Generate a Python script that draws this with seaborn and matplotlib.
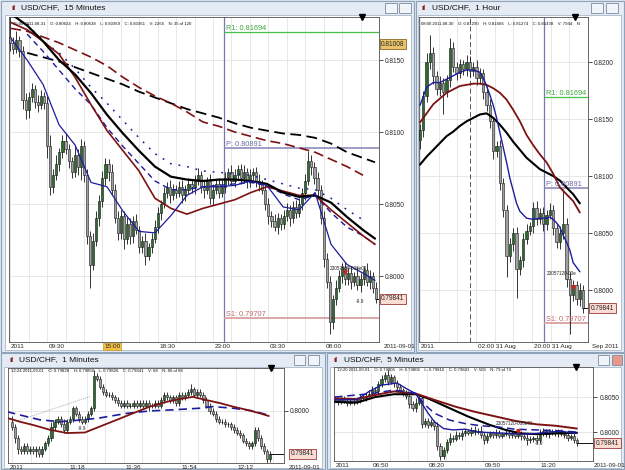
import numpy as np
import matplotlib
matplotlib.use("Agg")
import matplotlib.pyplot as plt
import matplotlib.transforms as mtransforms
from matplotlib.patches import Rectangle
import seaborn as sns

sns.set_style("white")
plt.rcParams["font.family"] = ["Liberation Sans", "DejaVu Sans"]

W, H = 625, 470
BASE = 0.7900          # all series below are pips above this
R1, PIV, S1 = 0.81694, 0.80891, 0.79707
LAST = 0.79841

# ---------------- 15 minutes ----------------
a_first_open = 266
a_close = [262, 258, 264, 256, 222, 215, 224, 230, 221, 219,
           225, 220, 190, 162, 170, 178, 186, 194, 188, 180,
           172, 184, 176, 190, 170, 128, 108, 124, 140, 152,
           168, 178, 172, 160, 140, 130, 142, 126, 136, 128,
           138, 132, 120, 124, 114, 120, 126, 134, 144, 150,
           158, 162, 156, 160, 158, 162, 156, 160, 164, 162,
           166, 170, 162, 160, 166, 154, 160, 164, 158, 162,
           168, 172, 166, 170, 174, 168, 172, 166, 170, 172,
           166, 164, 160, 150, 142, 138, 134, 140, 136, 142,
           146, 140, 148, 144, 150, 158, 166, 180, 176, 168,
           160, 140, 112, 96, 68, 84, 92, 100, 106, 98,
           102, 96, 100, 94, 98, 104, 96, 100, 92, 84.1]
a_up = [17, 4, 6, 3, 4, 5, 4, 4, 3, 5,
        4, 3, 5, 8, 4, 6, 3, 4, 5, 4,
        3, 6, 4, 5, 4, 4, 3, 6, 5, 4,
        5, 4, 3, 6, 4, 5, 4, 3, 5, 4,
        4, 5, 3, 4, 6, 3, 4, 5, 4, 3,
        4, 3, 5, 4, 3, 4, 5, 3, 4, 3,
        4, 5, 3, 4, 3, 5, 4, 3, 4, 5,
        4, 3, 5, 4, 3, 4, 5, 3, 4, 3,
        4, 5, 3, 4, 4, 3, 5, 4, 3, 4,
        5, 3, 4, 5, 4, 3, 5, 7, 4, 3,
        4, 3, 5, 4, 4, 3, 5, 4, 3, 4,
        4, 5, 3, 6, 4, 3, 5, 4, 3, 4]
a_dn = [6, 4, 3, 4, 6, 6, 5, 3, 4, 5,
        3, 4, 8, 6, 4, 3, 5, 4, 3, 5,
        4, 3, 6, 9, 5, 6, 16, 4, 3, 5,
        4, 5, 6, 4, 3, 5, 4, 7, 4, 6,
        5, 3, 4, 4, 6, 3, 4, 3, 4, 5,
        3, 4, 5, 3, 4, 3, 5, 4, 3, 4,
        5, 3, 4, 6, 3, 4, 5, 3, 4, 3,
        4, 5, 3, 4, 3, 4, 3, 5, 4, 3,
        4, 5, 3, 4, 6, 4, 3, 5, 4, 3,
        4, 5, 3, 4, 3, 4, 5, 3, 6, 4,
        5, 4, 6, 4, 8, 5, 4, 3, 5, 4,
        4, 5, 3, 4, 5, 4, 3, 5, 4, 3]
a_ma_idx = [0.3, 5.5, 10.7, 15.9, 21.1, 26.3, 31.5, 36.7, 41.9, 47.1, 52.3, 57.5,
            62.7, 67.9, 73.1, 78.3, 83.5, 88.8, 94.0, 99.2, 104.4, 109.6, 114.8, 118.7]
nan = np.nan
a_blue = [265, 250, 233, 205, 191, 165, 162, 145, 131, 130, 142, 156,
          162, 162, 163, 166, 163, 148, 146, 158, 122, 108, 102, 97]
a_black = [282, 274, 263, 250, 240, 227, 212, 199, 187, 176, 169, 167,
           166, 167, 167, 166, 164, 158, 155, 156, 151, 141, 132, 126]
a_brown = [276, 271, 263, 254, 238, 219, 201, 187, 173, 154, 147, 143,
           147, 150, 153, 158, 162, 159, 156, 156, 146, 137, 128, 122]
a_blue_dash = [nan, 268, 256, 243, 230, 219, 203, 190, 178, 166, 160, 160,
               162, 163, 164, 165, 163, 157, 153, 156, 144, 134, 128, 122]
a_blue_dot = [nan, 275, 263, 255, 244, 231, 220, 208, 196, 185, 178, 176,
              173, 172, 171, 170, 167, 164, 161, 160, 154, 146, 139, nan]
a_black_dash = [nan, 255, 252, 249, 245, 241, 237, 233, 228, 224, 220, 216,
                213, 210, 206, 203, 201, 199, 198, 196, 192, 186, 182, 179]
a_brown_dash = [272, 270, 266, 262, 257, 252, 246, 238, 231, 225, 220, 214,
                207, 204, 200, 197, 194, 192, 189, 186, 181, 176, 170, nan]
a_times = ["09:30", "15:00", "18:30", "23:00", "03:30", "08:00"]
a_time_idx = [12, 30, 48, 66, 84, 102]
a_pivot_start = 69.6

# ---------------- 1 hour ----------------
b_first_open = 232
b_close = [240, 270, 300, 308, 288, 276, 282, 274, 284, 312,
           296, 290, 298, 294, 300, 292, 296, 286, 290, 274,
           262, 248, 222, 226, 194, 170, 130, 140, 150, 118,
           126, 145, 152, 156, 172, 162, 168, 158, 166, 170,
           154, 142, 150, 158, 110, 96, 104, 92, 100, 84.1]
b_up = [6, 5, 8, 16, 5, 4, 6, 4, 5, 9,
        6, 4, 5, 4, 6, 5, 4, 6, 5, 4,
        5, 6, 4, 5, 6, 4, 5, 6, 4, 5,
        4, 5, 6, 4, 5, 6, 4, 5, 4, 6,
        5, 4, 6, 31, 5, 6, 5, 4, 6, 4]
b_dn = [8, 6, 5, 6, 7, 5, 6, 20, 5, 6,
        5, 6, 4, 5, 6, 5, 4, 6, 5, 6,
        5, 6, 7, 5, 6, 6, 19, 5, 6, 25,
        5, 6, 5, 4, 6, 5, 4, 6, 5, 4,
        6, 5, 6, 5, 7, 35, 6, 5, 6, 4]
b_blue_idx = [0, 2, 4, 6, 8, 10, 12, 14, 16, 18, 19, 20, 21, 22, 23, 24, 25, 26,
              27, 28, 29, 30, 32, 34, 36, 38, 39, 40, 41, 42, 43, 44, 45, 46, 47, 48]
b_blue = [262, 278, 282, 282, 285, 288, 291, 293, 293, 291, 286, 279, 271, 262, 251, 238, 225, 212,
          198, 187, 176, 169, 163, 162, 163, 163, 164, 162, 159, 155, 148, 142, 135, 124, 120, 116]
b_ma_idx = [0, 2, 4, 6, 8, 10, 12, 14, 16, 18, 20, 22, 24, 26, 28, 30, 32, 34, 36, 38, 40, 42, 44, 46, 48]
b_brown = [247, 255, 263, 268, 273, 276, 279, 280, 281, 281, 280, 277, 273,
           267, 258, 248, 236, 227, 219, 212, 202, 190, 184, 178, 168]
b_black = [210, 217, 223, 229, 235, 239, 244, 248, 251, 254, 255, 251, 245,
           238, 230, 223, 216, 211, 206, 203, 200, 196, 190, 184, 176]
b_times = ["02:00 31 Aug", "20:00 31 Aug"]
b_time_idx = [16.8, 33.6]
b_pivot_start = 37.2
b_session_line = 15

# ---------------- 1 minute ----------------
c_first_open = 96
c_close = [94, 90, 86, 85, 87, 85, 86, 85, 86, 84,
           86, 88, 90, 94, 96, 97, 95, 93, 96, 97,
           101, 99, 97, 96, 97, 99, 101, 113, 112, 109,
           107, 106, 106, 105, 104, 103, 102, 103, 102, 102,
           103, 102, 103, 102, 103, 102, 102, 103, 102, 104,
           106, 105, 104, 105, 103, 106, 105, 106, 107, 108,
           106, 107, 106, 104, 102, 100, 99, 97, 96, 96,
           95, 95, 94, 93, 92, 91, 89, 88, 87, 88,
           93, 90, 87, 85, 82, 84.1]
c_up = [2, 1, 1, 1, 1, 1, 1, 1, 1, 1,
        1, 1, 1, 2, 1, 1, 1, 2, 1, 1,
        1, 1, 1, 1, 1, 1, 1, 2, 1, 1,
        1, 1, 1, 1, 1, 1, 1, 1, 1, 1,
        1, 1, 1, 1, 1, 1, 1, 1, 1, 1,
        1, 1, 1, 1, 1, 1, 1, 1, 1, 2,
        1, 1, 1, 1, 1, 1, 1, 1, 1, 1,
        1, 1, 1, 1, 1, 1, 1, 1, 1, 1,
        1, 1, 1, 1, 1, 1]
c_dn = [1, 2, 2, 1, 1, 1, 1, 1, 2, 1,
        1, 1, 1, 1, 1, 1, 1, 1, 1, 1,
        1, 1, 1, 1, 1, 1, 1, 1, 1, 1,
        1, 1, 1, 1, 1, 1, 1, 1, 1, 1,
        1, 1, 1, 1, 1, 2, 1, 1, 1, 1,
        1, 1, 1, 1, 1, 1, 1, 1, 1, 1,
        1, 1, 1, 1, 1, 1, 1, 1, 1, 1,
        1, 1, 1, 1, 1, 1, 1, 1, 1, 1,
        1, 1, 1, 1, 3, 1]
c_brown_idx = [-1.6, 2.6, 6.9, 12.5, 18.1, 24, 28.9, 34.5, 39.8, 45.4,
               51, 55.3, 59.5, 64.1, 68.4, 72.7, 77.3, 81.6, 84.5]
c_brown = [97.4, 96, 94.8, 93, 91.8, 92, 94.2, 96.7, 99.1, 101.6,
           103.4, 104.4, 105.2, 104, 102.9, 101.6, 100.4, 99.1, 98.1]
c_blue_idx = [-1.6, 2.6, 9.2, 15.8, 23.4, 28.9, 37.8, 45.4, 53, 61.8, 66.1, 72.7, 79.3, 84.2]
c_blue = [99.7, 98.5, 96.7, 96, 96.7, 97.4, 99.1, 100, 100.4, 101, 101.6, 101, 100, 98.5]
c_trend_idx = [2, 25.7]
c_trend = [96.4, 105.3]
c_times = ["11:18", "11:36", "11:54", "12:12"]
c_time_idx = [18.4, 36.8, 55.3, 73.7]

# ---------------- 5 minutes ----------------
d_first_open = 148
d_close = [146, 143, 147, 144, 141, 145, 143, 146, 150, 148,
           152, 155, 160, 158, 168, 176, 182, 172, 178, 170,
           164, 160, 156, 152, 140, 134, 142, 148, 112, 116,
           110, 114, 108, 80, 66, 74, 86, 92, 90, 96,
           94, 98, 101, 99, 103, 100, 102, 96, 88, 94,
           98, 96, 99, 95, 97, 99, 96, 98, 95, 97,
           94, 92, 88, 90, 92, 89, 98, 102, 97, 99,
           101, 98, 100, 97, 96, 92, 94, 88, 84.1]
d_up = [3, 4, 3, 4, 3, 4, 3, 4, 5, 3,
        4, 5, 6, 4, 5, 6, 4, 6, 5, 4,
        4, 5, 3, 4, 5, 4, 6, 4, 5, 4,
        4, 5, 3, 6, 4, 5, 4, 6, 4, 5,
        4, 5, 4, 3, 4, 5, 4, 7, 4, 5,
        4, 3, 5, 4, 3, 5, 4, 3, 4, 5,
        4, 3, 5, 4, 3, 4, 6, 4, 3, 5,
        4, 3, 4, 5, 3, 4, 3, 4, 3]
d_dn = [3, 4, 3, 3, 4, 3, 4, 3, 4, 3,
        4, 3, 4, 5, 4, 3, 4, 5, 4, 5,
        4, 3, 4, 5, 6, 4, 5, 4, 6, 5,
        4, 3, 5, 6, 6, 5, 4, 5, 4, 3,
        4, 5, 4, 3, 5, 4, 3, 4, 5, 4,
        3, 4, 5, 3, 4, 3, 5, 4, 3, 4,
        5, 4, 6, 3, 4, 5, 4, 3, 4, 5,
        3, 4, 5, 3, 4, 5, 4, 3, 4]
d_blue_idx = [0, 7, 11, 15, 20, 23, 26, 28, 30, 32, 35, 38, 42, 46, 51, 56, 60, 65, 69, 73, 78]
d_blue = [146, 146, 158, 167, 170, 162, 155, 141, 127, 115, 105, 103, 104, 100, 99, 98, 97, 98, 100, 101, 98]
d_blue_dash_idx = [0, 12, 19, 26, 29, 32, 37, 42, 47, 53, 58, 65, 71, 78]
d_blue_dash = [150, 155, 160, 155, 139, 127, 117, 112, 109, 107, 104, 103, 102, 100]
d_brown_idx = [0, 7, 13, 19, 26, 32, 39, 45, 52, 58, 65, 71, 78]
d_brown = [148, 147, 153, 158, 155, 146, 136, 129, 122, 116, 111, 109, 105]
d_black_idx = [0, 7, 13, 19, 26, 30, 37, 43, 50, 55, 60, 65, 71, 78]
d_black = [143, 142, 150, 154, 154, 148, 134, 122, 110, 103, 98, 97, 98, 99]
d_times = ["06:50", "08:20", "09:50", "11:20"]
d_time_idx = [11.6, 29.7, 47.7, 65.8]

BLUE, BROWN, BLACK = "#1c1c9c", "#7d1212", "#000000"
UPC, DNC, EDGE = "#2e6b2e", "#a0a0a0", "#141414"


def px(v):
    return BASE + np.asarray(v, float) / 1e4


fig = plt.figure(figsize=(6.25, 4.7), dpi=100, facecolor="#dbe4ee")


def frect(x0, y0, x1, y1, **kw):
    fig.add_artist(Rectangle((x0 / W, 1 - y1 / H), (x1 - x0) / W, (y1 - y0) / H,
                             transform=fig.transFigure, **kw))


def window(outer, content, title, tpos, buttons, red_close=False):
    frect(*outer, facecolor="#e4ebf4", edgecolor="#8ea2ba", lw=0.8, zorder=-5)
    frect(*content, facecolor="white", edgecolor="#a9b7c8", lw=0.6, zorder=-4)
    fig.text((tpos[0] - 10) / W, 1 - tpos[1] / H, "ıl", color="#8b1a1a",
             fontsize=5.5, va="center", fontweight="bold")
    fig.text(tpos[0] / W, 1 - tpos[1] / H, title, fontsize=6, va="center", color="#111")
    for k, b in enumerate(buttons):
        last = red_close and k == len(buttons) - 1
        frect(*b, facecolor="#e59a8c" if last else "#f1f4f8", edgecolor="#7b8ba0",
              lw=0.6, zorder=-3)


def make_axes(rect, xlim, ylim, yticks, time_idx, times, right_label, header, rdx=3):
    x0, y0, x1, y1 = rect
    ax = fig.add_axes([x0 / W, 1 - y1 / H, (x1 - x0) / W, (y1 - y0) / H])
    ax.set_facecolor("white")
    ax.set_xlim(*xlim)
    ax.set_ylim(*ylim)
    step = (time_idx[1] - time_idx[0]) / 3
    grid = np.arange(time_idx[0] - 6 * step, xlim[1], step)
    grid = grid[grid > xlim[0]]
    for g in grid:
        ax.axvline(g, color="#e3e3e3", lw=0.6, zorder=0)
    for t in yticks:
        ax.axhline(t, color="#e3e3e3", lw=0.6, zorder=0)
    ax.set_xticks(time_idx)
    ax.set_xticklabels([])
    ax.tick_params(axis="x", length=6, width=0.5, direction="out", color="#333")
    ax.yaxis.tick_right()
    ax.set_yticks(yticks)
    ax.set_yticklabels([f"{t:.4f}" for t in yticks])
    ax.tick_params(axis="y", length=3, width=0.6, labelsize=4.7, pad=1.5, color="#333")
    for s in ax.spines.values():
        s.set_color("#4d4d4d")
        s.set_linewidth(0.6)
    ax.annotate("2011", xy=(0, 0), xycoords="axes fraction", xytext=(1.2, -1.2),
                textcoords="offset points", fontsize=4.6, ha="left", va="top")
    for i, lab in zip(time_idx, times):
        ax.annotate(lab, xy=(i, 0), xycoords=("data", "axes fraction"), xytext=(1.2, -1.2),
                    textcoords="offset points", fontsize=4.6, ha="left", va="top")
    ax.annotate(right_label, xy=(1, 0), xycoords="axes fraction", xytext=(rdx, -1.2),
                textcoords="offset points", fontsize=4.5, ha="left", va="top")
    ax.text(0.012, 0.985, header, transform=ax.transAxes, fontsize=3.1, va="top",
            ha="left", color="#111", zorder=6)
    return ax


def candles(ax, first_open, close, up, dn):
    c = px(close)
    o = np.r_[px(first_open), c[:-1]]
    hi = np.maximum(o, c) + np.asarray(up) / 1e4
    lo = np.minimum(o, c) - np.asarray(dn) / 1e4
    idx = np.arange(len(c))
    ax.vlines(idx, lo, hi, color=EDGE, lw=0.6, zorder=2)
    cols = np.where(c > o, UPC, DNC)
    ax.bar(idx, c - o, bottom=o, width=0.7, color=cols, edgecolor=EDGE,
           linewidth=0.4, zorder=3)
    return idx[-1], c[-1]


def ma(ax, idx, vals, color, lw, dashes=None, z=4):
    x = np.asarray(idx, float)
    y = px(vals)
    keep = ~np.isnan(y)
    sns.lineplot(x=x[keep], y=y[keep], ax=ax, color=color, lw=lw, errorbar=None,
                 legend=False, zorder=z, sort=False)
    if dashes:
        ax.lines[-1].set_dashes(dashes)


def price_box(ax, y, text, fc, ec, dx=0.006):
    tr = mtransforms.blended_transform_factory(ax.transAxes, ax.transData)
    ax.text(1 + dx, y, text, transform=tr, fontsize=4.7, va="center", ha="left",
            bbox=dict(boxstyle="square,pad=0.25", fc=fc, ec=ec, lw=0.6), zorder=7, clip_on=False)


def last_line(ax, i, c):
    x1 = ax.get_xlim()[1]
    ax.plot([i, x1], [c, c], color="#111", lw=0.7, zorder=5)


def pivots(ax, start, xmax):
    ax.axvline(start, color="#7878ae", lw=0.9, zorder=1)
    items = [(R1, "R1: 0.81694", "#48c048", "#3aa83a", 0.9),
             (PIV, "P: 0.80891", "#8282b6", "#6a6aa4", 1.1),
             (S1, "S1: 0.79707", "#d9a0a0", "#c06868", 1.3)]
    for val, lab, lc, tc, lw in items:
        ax.hlines(val, start, xmax, color=lc, lw=lw, zorder=1)
        ax.text(start + 0.5, val, lab, color=tc, fontsize=5.3, va="bottom", ha="left", zorder=6)


# ---------- windows ----------
window((1, 1, 414, 352), (5, 15, 411, 350), "USD/CHF,  15 Minutes", (21, 8),
       [(385, 3, 397, 13), (399, 3, 411, 13)])
window((416, 1, 624, 352), (418, 15, 621, 350), "USD/CHF,  1 Hour", (432, 8),
       [(591, 3, 603, 13), (606, 3, 618, 13)])
window((1, 353, 325, 469), (4, 367, 322, 468), "USD/CHF,  1 Minutes", (19, 360),
       [(294, 355, 305, 365), (308, 355, 319, 365)])
window((327, 353, 624, 469), (330, 367, 621, 468), "USD/CHF,  5 Minutes", (344, 360),
       [(598, 355, 609, 365), (612, 355, 622, 365)], red_close=True)

# ---------- 15 minutes ----------
axA = make_axes((9, 17, 379, 342), (-0.4, 120.0), (0.79542, 0.81799),
                [0.8000, 0.8050, 0.8100, 0.8150], a_time_idx, a_times, "2011-09-01",
                "15:00 2011-08-31    O: 0.80634    H: 0.80638    L: 0.80369    C: 0.80361    V: 2266    N: 35 of 120")
pivots(axA, a_pivot_start, 120.0)
li, lc = candles(axA, a_first_open, a_close, a_up, a_dn)
ma(axA, a_ma_idx, a_black_dash, BLACK, 1.3, (6, 3))
ma(axA, a_ma_idx, a_brown_dash, BROWN, 1.2, (6, 3))
ma(axA, a_ma_idx, a_blue_dot, BLUE, 1.1, (1.2, 4.5))
ma(axA, a_ma_idx, a_blue_dash, BLUE, 1.0, (4, 3))
ma(axA, a_ma_idx, a_brown, BROWN, 1.2)
ma(axA, a_ma_idx, a_black, BLACK, 1.6)
ma(axA, a_ma_idx, a_blue, BLUE, 0.9)
last_line(axA, li, lc)
price_box(axA, LAST, "0.79841", "#fbdcd3", "#9a3a3a")
price_box(axA, px(261), "0.81008", "#e9c46c", "#8a6a22")
axA.plot(114.4, 0.81799, marker="v", color="k", ms=4, clip_on=False, zorder=8)
axA.text(104, px(104), "23057120-008e01", fontsize=3.3, zorder=6, color="#222")
axA.plot(109, px(102.5), marker="v", color="#cc2020", ms=2.5, zorder=6)
axA.text(112.5, px(82.5), "-9.9", fontsize=3.5, zorder=6, va="center")
for t in axA.texts:
    if t.get_text() == "15:00":
        t.set_bbox(dict(boxstyle="square,pad=0.15", fc="#f3c043", ec="#c4962a", lw=0.5))

# ---------- 1 hour ----------
axB = make_axes((419, 17, 588, 342), (-0.3, 50.45), (0.79544, 0.82395),
                [0.8000, 0.8050, 0.8100, 0.8150, 0.8200], b_time_idx, b_times, "Sep 2011",
                "08:00 2011-08-30    O: 0.81290    H: 0.81666    L: 0.81274    C: 0.81438    V: 7944    N")
axB.axvline(b_session_line, color="#555555", lw=0.7, ls=(0, (5, 3)), zorder=1)
pivots(axB, b_pivot_start, 50.45)
li, lc = candles(axB, b_first_open, b_close, b_up, b_dn)
ma(axB, b_ma_idx, b_black, BLACK, 1.5)
ma(axB, b_ma_idx, b_brown, BROWN, 1.3)
ma(axB, b_blue_idx, b_blue, BLUE, 1.0)
last_line(axB, li, lc)
price_box(axB, LAST, "0.79841", "#fbdcd3", "#9a3a3a", dx=0.015)
axB.plot(46.5, 0.82395, marker="v", color="k", ms=4, clip_on=False, zorder=8)
axB.text(38.2, px(113), "23057120-00e", fontsize=3.3, zorder=6, color="#222")
axB.plot(46, px(103), marker="v", color="#cc2020", ms=2.5, zorder=6)

# ---------- 1 minute ----------
axC = make_axes((8, 368, 284, 463), (-1.3, 89.5), (0.79807, 0.80159),
                [0.8000], c_time_idx, c_times, "2011-09-01",
                "12:24 2011-09-01    O: 0.79828    H: 0.79850    L: 0.79826    C: 0.79841    V: 68    N: 86 of 86")
ma(axC, c_trend_idx, c_trend, "#8a8a9a", 0.6, (1, 1.5), z=1)
li, lc = candles(axC, c_first_open, c_close, c_up, c_dn)
ma(axC, c_blue_idx, c_blue, BLUE, 1.2, (5, 3))
ma(axC, c_brown_idx, c_brown, BROWN, 1.3)
last_line(axC, li, lc)
price_box(axC, LAST, "0.79841", "#fbdcd3", "#9a3a3a", dx=0.025)
axC.plot(85.2, 0.80159, marker="v", color="k", ms=4, clip_on=False, zorder=8)
axC.text(21.5, px(93.5), "-9.9", fontsize=3.5, zorder=6, va="center")

# ---------- 5 minutes ----------
axD = make_axes((334, 367, 593, 461), (-0.32, 83.2), (0.79586, 0.80929),
                [0.8000, 0.8050], d_time_idx, d_times, "2011-09-01",
                "12:20 2011-09-01    O: 0.79806    H: 0.79806    L: 0.79816    C: 0.79841    V: 503    N: 79 of 79",
                rdx=0.5)
li, lc = candles(axD, d_first_open, d_close, d_up, d_dn)
ma(axD, d_black_idx, d_black, BLACK, 1.5)
ma(axD, d_brown_idx, d_brown, BROWN, 1.4)
ma(axD, d_blue_dash_idx, d_blue_dash, BLUE, 1.1, (5, 3))
ma(axD, d_blue_idx, d_blue, BLUE, 1.0)
last_line(axD, li, lc)
price_box(axD, LAST, "0.79841", "#fbdcd3", "#9a3a3a", dx=0.012)
axD.plot(77.7, 0.80929, marker="v", color="k", ms=4, clip_on=False, zorder=8)
axD.text(52, px(110), "23057120-008e01", fontsize=3.3, zorder=6, color="#222")
axD.plot(59, px(101), marker="v", color="#cc2020", ms=2.5, zorder=6)
axD.text(64.5, px(84), "-9.9", fontsize=3.5, zorder=6, va="center")

fig.savefig("out.png", dpi=100, facecolor=fig.get_facecolor())
